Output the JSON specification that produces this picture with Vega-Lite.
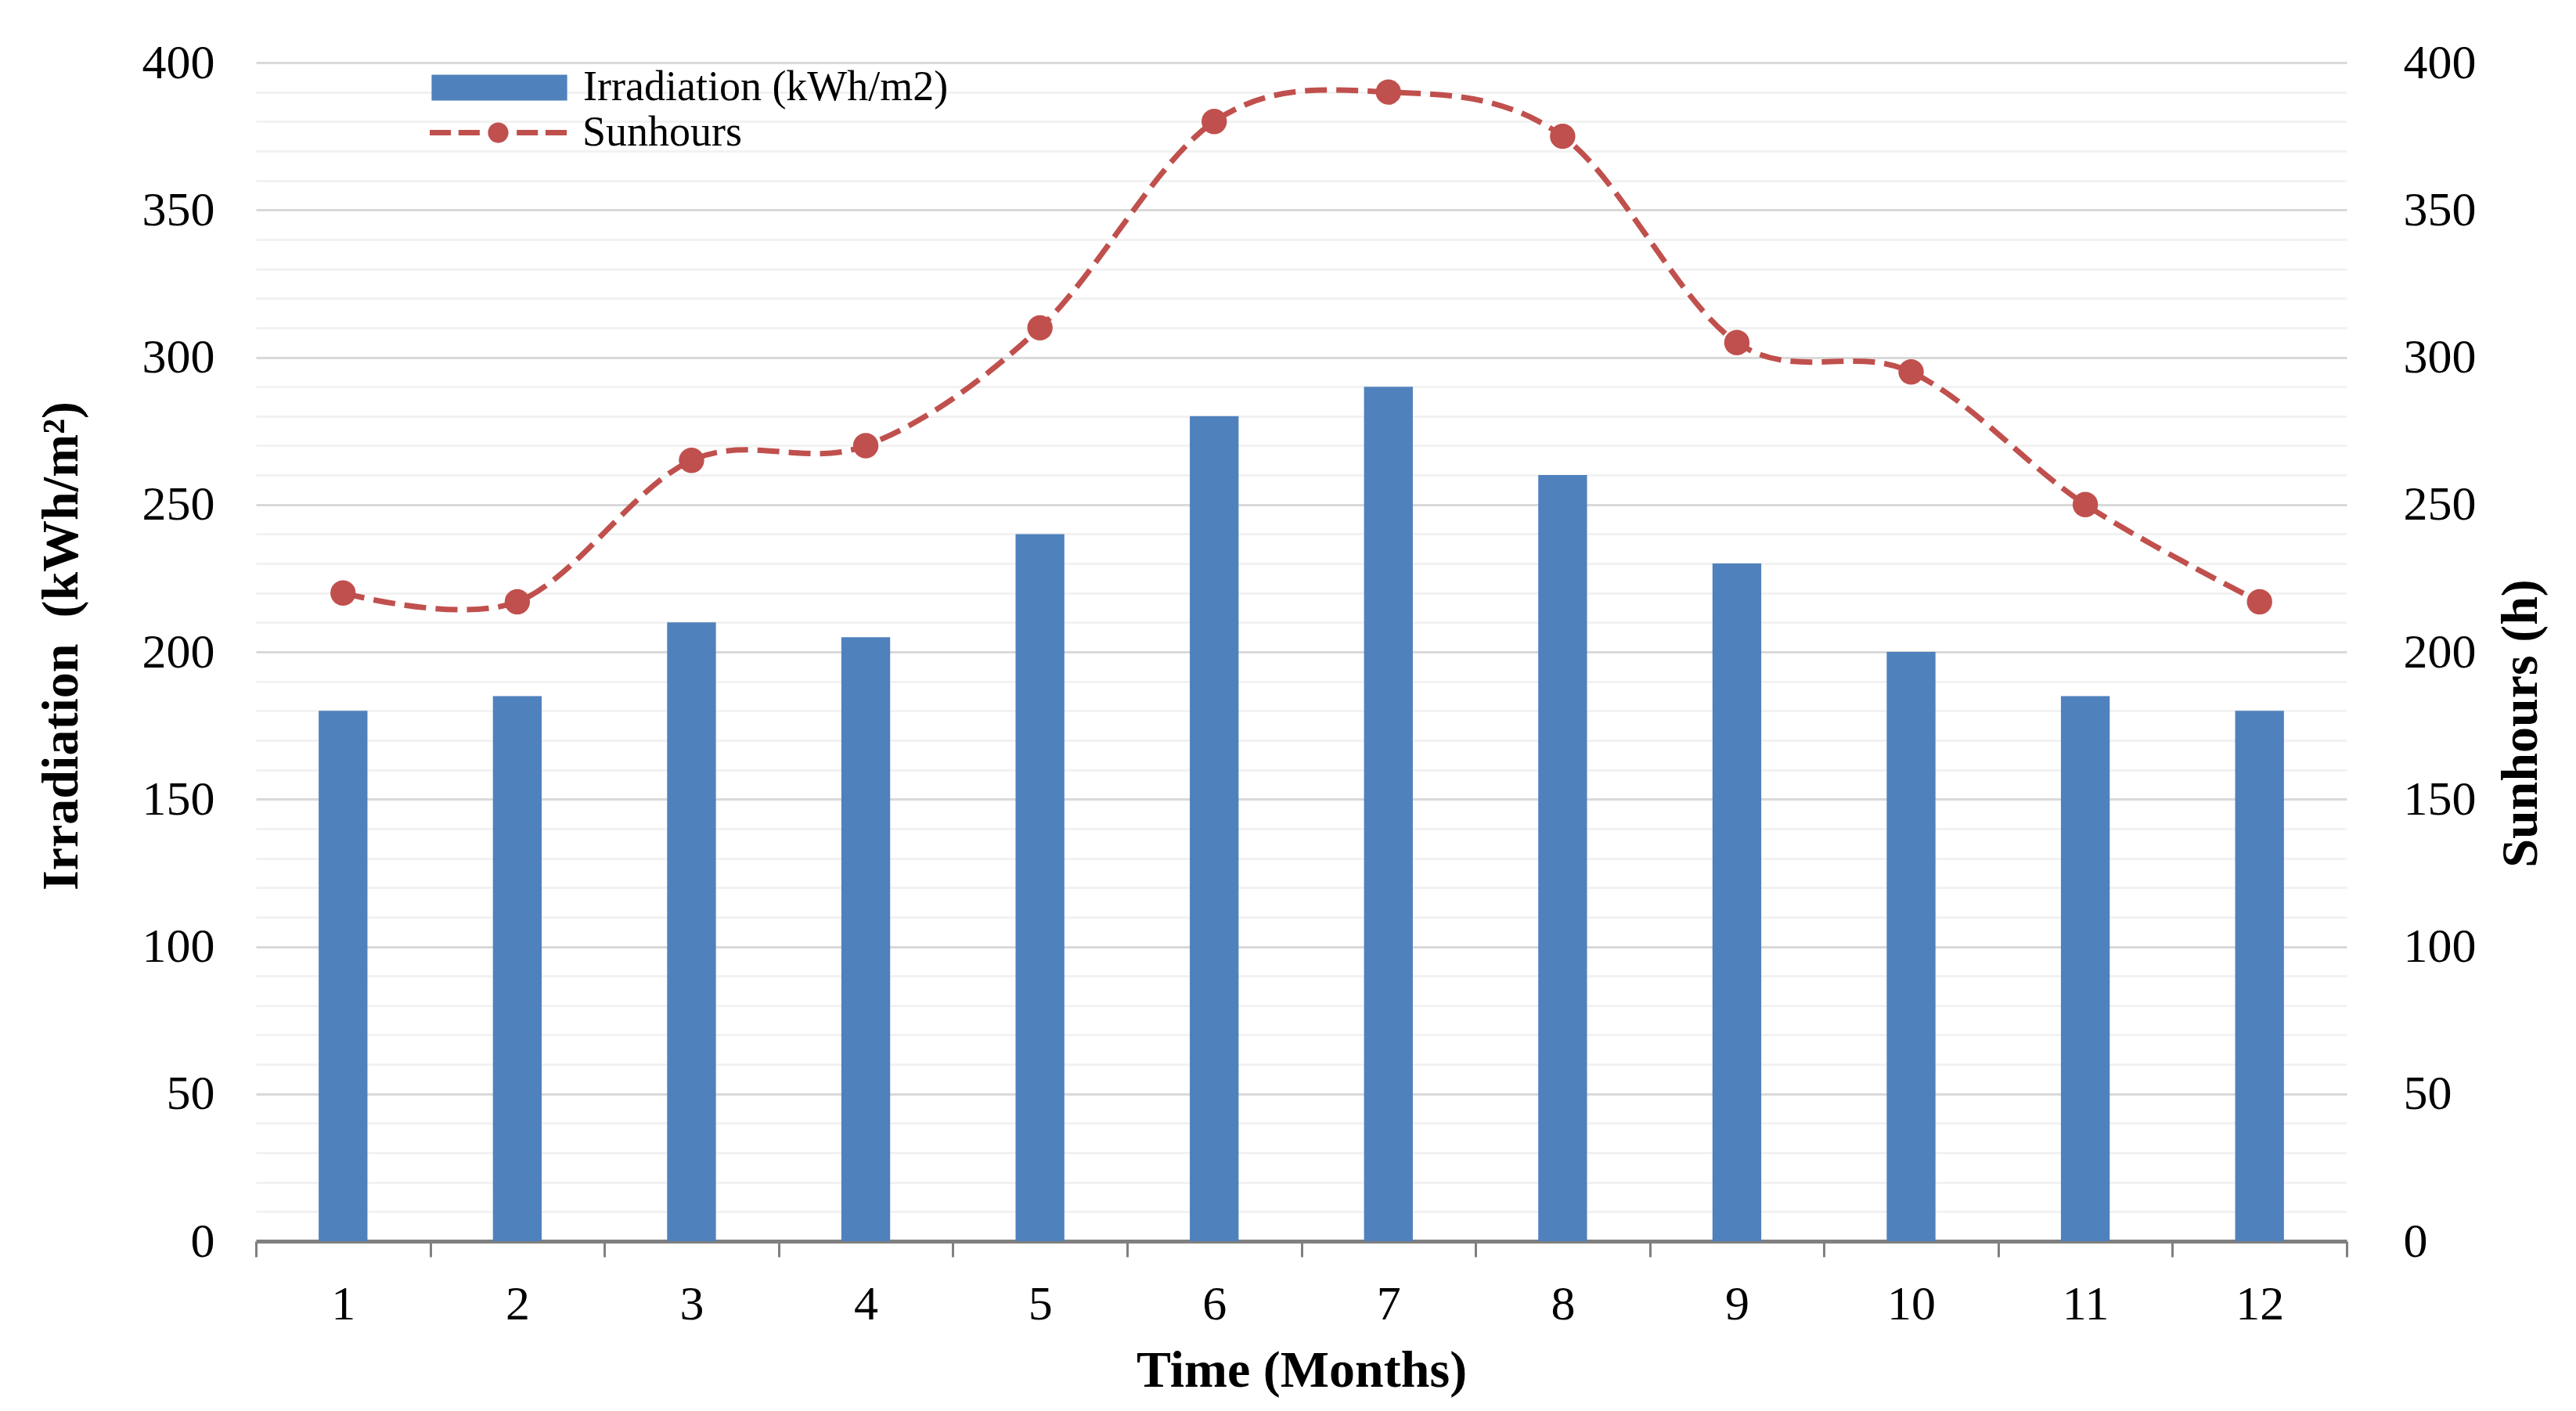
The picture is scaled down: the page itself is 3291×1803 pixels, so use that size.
{
  "$schema": "https://vega.github.io/schema/vega-lite/v6.json",
  "autosize": {"type": "none"},
  "width": 2671,
  "height": 1506,
  "padding": {"left": 327, "top": 80, "right": 293, "bottom": 217},
  "background": "white",
  "config": {"font": "Liberation Serif", "view": {"stroke": null}},
  "data": {"values": [
    {"month": 1, "irradiation": 180, "sunhours": 220},
    {"month": 2, "irradiation": 185, "sunhours": 217},
    {"month": 3, "irradiation": 210, "sunhours": 265},
    {"month": 4, "irradiation": 205, "sunhours": 270},
    {"month": 5, "irradiation": 240, "sunhours": 310},
    {"month": 6, "irradiation": 280, "sunhours": 380},
    {"month": 7, "irradiation": 290, "sunhours": 390},
    {"month": 8, "irradiation": 260, "sunhours": 375},
    {"month": 9, "irradiation": 230, "sunhours": 305},
    {"month": 10, "irradiation": 200, "sunhours": 295},
    {"month": 11, "irradiation": 185, "sunhours": 250},
    {"month": 12, "irradiation": 180, "sunhours": 217}
  ]},
  "encoding": {
    "x": {
      "field": "month", "type": "ordinal",
      "scale": {"paddingInner": 0, "paddingOuter": 0},
      "axis": {
        "title": "Time (Months)", "labelAngle": 0, "tickBand": "extent",
        "tickSize": 20, "tickColor": "#808080", "tickWidth": 3,
        "domainColor": "#808080", "domainWidth": 5,
        "labelFontSize": 62, "labelPadding": 30, "labelColor": "black",
        "titleFontSize": 66, "titleFontWeight": "bold", "titleColor": "black",
        "titleBaseline": "middle", "titleY": 165, "grid": false
      }
    }
  },
  "layer": [
    {
      "mark": {"type": "bar", "width": {"band": 0.28}},
      "encoding": {
        "y": {
          "field": "irradiation", "type": "quantitative",
          "scale": {"domain": [0, 400]},
          "axis": {
            "title": "Irradiation\u00a0 (kWh/m²)",
            "values": [0,10,20,30,40,50,60,70,80,90,100,110,120,130,140,150,160,170,180,190,200,210,220,230,240,250,260,270,280,290,300,310,320,330,340,350,360,370,380,390,400],
            "ticks": false, "domain": false,
            "labelFontSize": 62, "labelPadding": 53, "labelColor": "black",
            "labelExpr": "datum.value % 50 === 0 ? datum.label : ''",
            "labelOverlap": false,
            "gridColor": {"condition": {"test": "datum.value % 50 === 0", "value": "#D9D9D9"}, "value": "#F2F2F2"},
            "gridWidth": 3,
            "titleFontSize": 66, "titleFontWeight": "bold", "titleColor": "black",
            "titleAngle": 270, "titleBaseline": "middle", "titleX": -249, "titleY": 745
          }
        },
        "color": {
          "datum": "Irradiation (kWh/m2)",
          "scale": {"range": ["#4F81BD"]},
          "legend": {
            "title": null, "orient": "none", "legendX": 224, "legendY": -55,
            "symbolType": "M-1,-0.19H1V0.19H-1Z", "symbolSize": 30000,
            "symbolStrokeWidth": 0, "labelLimit": 0,
            "labelFontSize": 54, "labelColor": "black", "labelOffset": 20
          }
        }
      }
    },
    {
      "encoding": {
        "y": {
          "field": "sunhours", "type": "quantitative",
          "scale": {"domain": [0, 400]},
          "axis": {
            "orient": "right", "title": "Sunhours (h)",
            "values": [0,50,100,150,200,250,300,350,400],
            "grid": false, "ticks": false, "domain": false,
            "labelFontSize": 62, "labelPadding": 72, "labelColor": "black",
            "titleFontSize": 66, "titleFontWeight": "bold", "titleColor": "black",
            "titleAngle": 270, "titleBaseline": "middle", "titleX": 222, "titleY": 844
          }
        }
      },
      "layer": [
        {
          "mark": {"type": "line", "color": "#C0504D", "strokeWidth": 7, "strokeDash": [28, 12], "interpolate": "cardinal", "tension": 0},
          "encoding": {}
        },
        {
          "mark": {"type": "point", "filled": true, "size": 1050, "opacity": 1},
          "encoding": {
            "color": {
              "datum": "Sunhours",
              "scale": {"range": ["#C0504D"]},
              "legend": {
                "title": null, "orient": "none", "legendX": 222, "legendY": 2,
                "symbolType": "M-1,-0.04H-0.69V0.04H-1Z M-0.58,-0.04H-0.27V0.04H-0.58Z M0.27,-0.04H0.58V0.04H0.27Z M0.69,-0.04H1V0.04H0.69Z M-0.15,0A0.15,0.15,0,1,1,0.15,0A0.15,0.15,0,1,1,-0.15,0Z",
                "symbolSize": 30625, "symbolStrokeWidth": 0, "symbolOpacity": 1, "labelLimit": 0,
                "labelFontSize": 54, "labelColor": "black", "labelOffset": 20
              }
            }
          }
        }
      ]
    }
  ],
  "resolve": {"scale": {"y": "independent", "color": "independent"}}
}
